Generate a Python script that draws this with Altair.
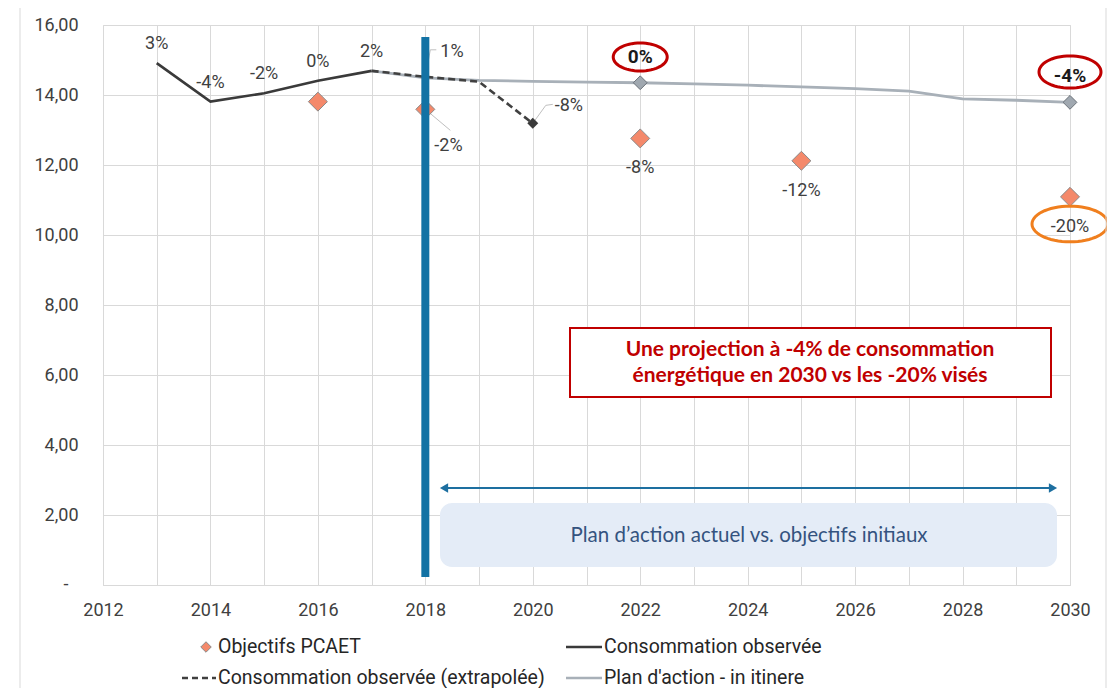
import math
import altair as alt
import pandas as pd

# ---------------- data ----------------
obs_years = [2013, 2014, 2015, 2016, 2017]
obs_values = [14.91, 13.81, 14.05, 14.41, 14.69]
obs_labels = ["3%", "-4%", "-2%", "0%", "2%"]

ext_years = [2017, 2018, 2019, 2020]
ext_values = [14.69, 14.52, 14.38, 13.19]
ext_labels = ["", "1%", "", "-8%"]

plan_years = [2017, 2018, 2019, 2020, 2021, 2022, 2023, 2024, 2025, 2026, 2027, 2028, 2029, 2030]
plan_values = [14.69, 14.49, 14.42, 14.39, 14.37, 14.35, 14.32, 14.28, 14.23, 14.18, 14.11, 13.89, 13.85, 13.79]
plan_marker_years = [2022, 2030]
plan_marker_labels = ["0%", "-4%"]

obj_years = [2016, 2018, 2022, 2025, 2030]
obj_values = [13.81, 13.59, 12.76, 12.12, 11.09]
obj_labels = ["", "-2%", "-8%", "-12%", "-20%"]

legend_labels = ["Objectifs PCAET", "Consommation observée",
                 "Consommation observée (extrapolée)", "Plan d'action - in itinere"]
box_red_lines = ["Une projection à -4% de consommation", "énergétique en 2030 vs les -20% visés"]
box_blue_text = "Plan d\u2019action actuel vs. objectifs initiaux"
zero_label = "-"

# ---------------- frames ----------------
obs_df = pd.DataFrame({"year": obs_years, "value": obs_values, "label": obs_labels})
ext_df = pd.DataFrame({"year": ext_years, "value": ext_values, "label": ext_labels})
plan_df = pd.DataFrame({"year": plan_years, "value": plan_values})
pm_df = plan_df[plan_df.year.isin(plan_marker_years)].copy()
pm_df["label"] = plan_marker_labels
obj_df = pd.DataFrame({"year": obj_years, "value": obj_values, "label": obj_labels})

W, H = 967, 560
XMIN, XMAX, YMIN, YMAX = 2012, 2030, 0, 16
PXX = W / (XMAX - XMIN)
PXY = H / (YMAX - YMIN)

FONT = "Roboto"
GRID = "#d9d9d9"

xaxis = alt.Axis(values=list(range(2012, 2031)),
                 labelExpr="datum.value % 2 === 0 ? '' + datum.value : ''",
                 ticks=False, domainColor=GRID, gridColor=GRID, grid=True,
                 labelFontSize=18, labelFont=FONT, labelColor="#404040",
                 labelPadding=16, labelFlush=False, labelOverlap=False, title=None)
yaxis = alt.Axis(values=list(range(0, 17, 2)),
                 labelExpr="datum.value === 0 ? '' : replace(format(datum.value, '.2f'), '.', ',')",
                 ticks=False, domain=False, gridColor=GRID, grid=True,
                 labelFontSize=18, labelFont=FONT, labelColor="#404040",
                 labelPadding=25, labelFlush=False, labelOverlap=False, title=None)
xenc = alt.X("year:Q", scale=alt.Scale(domain=[XMIN, XMAX], nice=False, zero=False), axis=xaxis)
yenc = alt.Y("value:Q", scale=alt.Scale(domain=[YMIN, YMAX], nice=False), axis=yaxis)


def base(data):
    return alt.Chart(data).encode(x=xenc, y=yenc)


def offset(year, value, dxpx, dypx):
    return year + dxpx / PXX, value - dypx / PXY


def px2x(px):
    return XMIN + (px - 103) / PXX


def py2y(py):
    return YMAX - (py - 25) / PXY


# ---------------- series ----------------
plan_line = base(plan_df).mark_line(color="#a8b0b8", strokeWidth=2.8)
ext_line = base(ext_df).mark_line(color="#404040", strokeWidth=2.6, strokeDash=[7, 4])
obs_line = base(obs_df).mark_line(color="#3a3a3a", strokeWidth=2.6)

plan_pts = base(pm_df).mark_point(shape="diamond", filled=True, size=190, fill="#a0a8b0",
                                  stroke="#6b7279", strokeWidth=1, opacity=1)
ext_end = base(ext_df.iloc[[-1]]).mark_point(shape="diamond", filled=True, size=120,
                                             color="#3a3a3a", opacity=1)
obj_pts = base(obj_df).mark_point(shape="diamond", filled=True, size=360, fill="#f4896b",
                                  stroke="#8a8a8a", strokeWidth=1, opacity=1)

bar_df = pd.DataFrame({"year": [2018], "value": [py2y(37)], "value2": [py2y(577)]})
blue_bar = alt.Chart(bar_df).mark_rule(color="#1272a4", strokeWidth=8).encode(
    x=xenc, y=yenc, y2="value2:Q")

# zero tick label shown as a dash (accounting style)
zero_txt = alt.Chart(pd.DataFrame({"value": [0]})).mark_text(
    text=zero_label, font=FONT, fontSize=18, color="#404040", baseline="middle").encode(
    x=alt.value(-37), y=yenc)

# ---------------- labels ----------------
txt = dict(font=FONT, fontSize=18, color="#404040")
obs_text = base(obs_df).mark_text(dy=-19, **txt).encode(text="label:N")
plan_text = base(pm_df).mark_text(dy=-26, font=FONT, fontSize=19, fontWeight="bold",
                                  color="#1a1a1a").encode(text="label:N")
obj_text = base(obj_df[obj_df.year.isin([2022, 2025, 2030])]).mark_text(dy=30, **txt).encode(text="label:N")
ext1_text = base(ext_df[ext_df.year == 2018]).mark_text(dx=15, dy=-25, align="left", **txt).encode(text="label:N")
ext2_text = base(ext_df[ext_df.year == 2020]).mark_text(dx=22, dy=-17, align="left", **txt).encode(text="label:N")
obj2_text = base(obj_df[obj_df.year == 2018]).mark_text(dx=9, dy=37, align="left", **txt).encode(text="label:N")

# leader lines (pixel offsets from their point)
leaders = [
    (2018, ext_values[1], [(0, 0), (5, -27), (11, -27)]),
    (2020, ext_values[3], [(0, 0), (13, -18), (20, -19)]),
    (2018, obj_values[1], [(0, 0), (25, 21)]),
]
rows = []
for i, (yr, val, pts) in enumerate(leaders):
    for j, (dxp, dyp) in enumerate(pts):
        xx, yy = offset(yr, val, dxp, dyp)
        rows.append({"id": i, "o": j, "year": xx, "value": yy})
lead_df = pd.DataFrame(rows)
leader_lines = base(lead_df).mark_line(color="#bfbfbf", strokeWidth=1).encode(
    detail="id:N", order="o:Q")


# ---------------- ellipses ----------------
def ellipse_path(ratio, n=60):
    pts = []
    for k in range(n):
        a = 2 * math.pi * k / n
        pts.append(f"{math.cos(a):.4f},{ratio * math.sin(a):.4f}")
    return "M" + " L".join(pts) + " Z"


red_ell_df = pd.DataFrame({"year": [2022, 2030], "value": [py2y(57), py2y(72)]})
red_ell_a = base(red_ell_df.iloc[[0]]).mark_point(shape=ellipse_path(0.52), size=54 ** 2, filled=False,
                                                  stroke="#c00000", strokeWidth=3, opacity=1)
red_ell_b = base(red_ell_df.iloc[[1]]).mark_point(shape=ellipse_path(0.52), size=62 ** 2, filled=False,
                                                  stroke="#c00000", strokeWidth=3, opacity=1)
or_ell = base(pd.DataFrame({"year": [2030], "value": [py2y(224)]})).mark_point(
    shape=ellipse_path(0.47), size=76 ** 2, filled=False, stroke="#f07f1e", strokeWidth=3, opacity=1)

# ---------------- annotation boxes ----------------
red_box_df = pd.DataFrame({"year": [px2x(570)], "year2": [px2x(1051)],
                           "value": [py2y(328)], "value2": [py2y(397)]})
red_box = alt.Chart(red_box_df).mark_rect(fill="white", stroke="#c00000", strokeWidth=2).encode(
    x=xenc, x2="year2:Q", y=yenc, y2="value2:Q")
red_txt = alt.Chart(pd.DataFrame({"year": [px2x(810)], "value": [py2y(350)]})).mark_text(
    text=box_red_lines, font="Lato", fontSize=21, fontWeight="bold", color="#c00000",
    lineHeight=26, baseline="middle").encode(x=xenc, y=yenc)

blue_box_df = pd.DataFrame({"year": [px2x(440)], "year2": [px2x(1057)],
                            "value": [py2y(503)], "value2": [py2y(567)]})
blue_box = alt.Chart(blue_box_df).mark_rect(fill="#e4ecf7", cornerRadius=12).encode(
    x=xenc, x2="year2:Q", y=yenc, y2="value2:Q")
blue_txt = alt.Chart(pd.DataFrame({"year": [px2x(749)], "value": [py2y(536)]})).mark_text(
    text=box_blue_text, font="Lato", fontSize=20.5, color="#34537f", baseline="middle").encode(x=xenc, y=yenc)

arrow_df = pd.DataFrame({"year": [px2x(444)], "year2": [px2x(1053)], "value": [py2y(488)]})
arrow_line = alt.Chart(arrow_df).mark_rule(color="#1d6fa0", strokeWidth=1.8).encode(
    x=xenc, x2="year2:Q", y=yenc)
arrow_l = alt.Chart(pd.DataFrame({"year": [px2x(444)], "value": [py2y(488)]})).mark_point(
    shape="triangle-left", size=90, filled=True, color="#1d6fa0", opacity=1).encode(x=xenc, y=yenc)
arrow_r = alt.Chart(pd.DataFrame({"year": [px2x(1053)], "value": [py2y(488)]})).mark_point(
    shape="triangle-right", size=90, filled=True, color="#1d6fa0", opacity=1).encode(x=xenc, y=yenc)

# ---------------- legend (manual) ----------------
one = pd.DataFrame({"a": [0]})
LEG = dict(font=FONT, fontSize=19.5, color="#262626", align="left", baseline="middle")
row1, row2 = 622, 653
leg = [
    alt.Chart(one).mark_point(shape="diamond", filled=True, size=110, fill="#f4896b",
                              stroke="#8a8a8a", strokeWidth=1, opacity=1).encode(
        x=alt.value(103), y=alt.value(row1)),
    alt.Chart(one).mark_text(text=legend_labels[0], **LEG).encode(x=alt.value(115), y=alt.value(row1)),
    alt.Chart(one).mark_rule(color="#3a3a3a", strokeWidth=2.5).encode(
        x=alt.value(463), x2=alt.value(499), y=alt.value(row1)),
    alt.Chart(one).mark_text(text=legend_labels[1], **LEG).encode(x=alt.value(501), y=alt.value(row1)),
    alt.Chart(one).mark_rule(color="#404040", strokeWidth=2.5, strokeDash=[6, 4]).encode(
        x=alt.value(79), x2=alt.value(113), y=alt.value(row2)),
    alt.Chart(one).mark_text(text=legend_labels[2], **LEG).encode(x=alt.value(115), y=alt.value(row2)),
    alt.Chart(one).mark_rule(color="#a8b0b8", strokeWidth=2.5).encode(
        x=alt.value(463), x2=alt.value(499), y=alt.value(row2)),
    alt.Chart(one).mark_text(text=legend_labels[3], **LEG).encode(x=alt.value(501), y=alt.value(row2)),
    alt.Chart(one).mark_rule(color=GRID, strokeWidth=1).encode(
        x=alt.value(-83), y=alt.value(-25), y2=alt.value(671)),
    alt.Chart(one).mark_rule(color=GRID, strokeWidth=1).encode(
        x=alt.value(1003), y=alt.value(-25), y2=alt.value(671)),
]

chart = alt.layer(
    blue_box, red_box, arrow_line, arrow_l, arrow_r,
    plan_line, ext_line, obs_line, leader_lines,
    plan_pts, ext_end, obj_pts, blue_bar,
    obs_text, plan_text, obj_text, ext1_text, ext2_text, obj2_text,
    red_ell_a, red_ell_b, or_ell,
    red_txt, blue_txt, zero_txt,
    *leg
).properties(
    width=W, height=H,
    padding={"left": 95, "top": 17, "right": 37, "bottom": 103},
    autosize=alt.AutoSizeParams(type="none"),
).configure_view(stroke=None).configure(font=FONT)

chart.save("out.html", embed_options={"renderer": "svg", "actions": False})
